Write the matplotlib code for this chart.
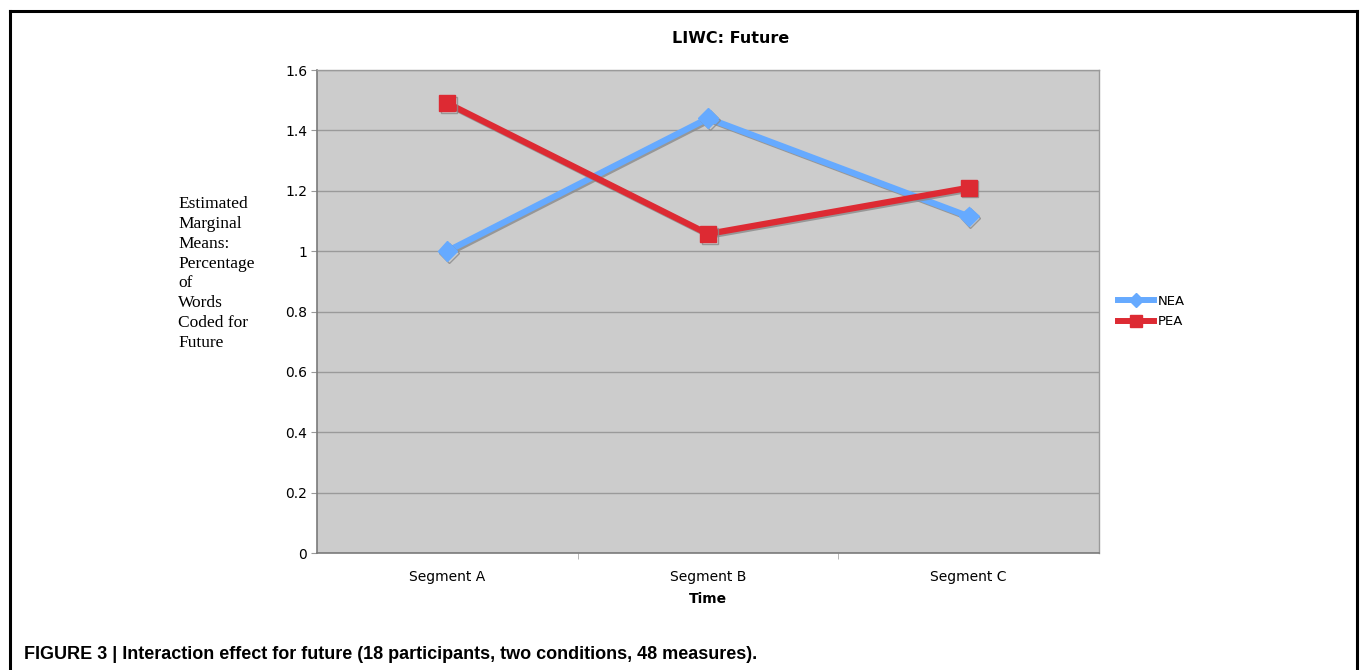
import matplotlib
matplotlib.use("Agg")
import matplotlib.pyplot as plt
import matplotlib.patheffects as pe
from matplotlib.lines import Line2D

# Data
segments = ["Segment A", "Segment B", "Segment C"]
nea_values = [1.00, 1.44, 1.115]
pea_values = [1.49, 1.057, 1.21]
y_ticks = [0, 0.2, 0.4, 0.6, 0.8, 1.0, 1.2, 1.4, 1.6]
y_tick_labels = ["0", "0.2", "0.4", "0.6", "0.8", "1", "1.2", "1.4", "1.6"]

NEA_COLOR = "#66aaff"
PEA_COLOR = "#dd2a33"

fig = plt.figure(figsize=(13.6, 6.7), dpi=100)
ax = fig.add_axes([0.2331, 0.1746, 0.575, 0.7209])
ax.set_facecolor("#cccccc")

x = list(range(len(segments)))
shadow = [pe.SimpleLineShadow(offset=(1.2, -1.2), shadow_color="#8a8a8a", alpha=0.8), pe.Normal()]

ax.plot(x, nea_values, color=NEA_COLOR, lw=4.5, marker="D", ms=10,
        solid_joinstyle="miter", path_effects=shadow, zorder=3, label="NEA")
ax.plot(x, pea_values, color=PEA_COLOR, lw=4.5, marker="s", ms=11.5,
        solid_joinstyle="miter", path_effects=shadow, zorder=4, label="PEA")

ax.set_xlim(-0.5, 2.5)
ax.set_ylim(0, 1.6)
ax.set_yticks(y_ticks)
ax.set_yticklabels(y_tick_labels, fontsize=10)
ax.set_xticks(x)
ax.set_xticklabels(segments, fontsize=10)
ax.tick_params(axis="x", length=0, pad=12)
ax.tick_params(axis="y", length=4, color="#999999", pad=3)

# category separators below the x axis
ax.set_xticks([0.5, 1.5], minor=True)
ax.tick_params(axis="x", which="minor", length=4, color="#aaaaaa")

ax.grid(axis="y", color="#9a9a9a", lw=1.0)
ax.set_axisbelow(True)
for side in ["left", "bottom"]:
    ax.spines[side].set_color("#7a7a7a")
    ax.spines[side].set_linewidth(1.2)
for side in ["top", "right"]:
    ax.spines[side].set_color("#9a9a9a")
    ax.spines[side].set_linewidth(1.0)

fig.text(0.5375, 0.943, "LIWC: Future", fontsize=11.5, fontweight="bold",
         ha="center", va="center")
ax.set_xlabel("Time", fontsize=10, fontweight="bold", labelpad=6)

fig.text(0.131, 0.708,
         "Estimated\nMarginal\nMeans:\nPercentage\nof\nWords\nCoded for\nFuture",
         family="Liberation Serif", fontsize=12.5, va="top", ha="left", linespacing=1.33)

handles = [
    Line2D([], [], color=NEA_COLOR, lw=4.3, marker="D", ms=7),
    Line2D([], [], color=PEA_COLOR, lw=4.3, marker="s", ms=9),
]
fig.legend(handles, ["NEA", "PEA"], loc="center left", bbox_to_anchor=(0.813, 0.535),
           frameon=False, fontsize=9.5, handlelength=2.8, handletextpad=0.25,
           labelspacing=0.55)

# outer frame: left, top, right
frame_kw = dict(color="black", lw=2.2, transform=fig.transFigure)
fig.add_artist(Line2D([0.0074, 0.0074], [0.0, 0.984], **frame_kw))
fig.add_artist(Line2D([0.0074, 0.998], [0.984, 0.984], **frame_kw))
fig.add_artist(Line2D([0.998, 0.998], [0.0, 0.984], **frame_kw))

fig.text(0.018, 0.017,
         "FIGURE 3 | Interaction effect for future (18 participants, two conditions, 48 measures).",
         family=["Liberation Sans Narrow", "Liberation Sans", "DejaVu Sans"], fontsize=13,
         fontweight="bold", va="baseline", ha="left")

fig.savefig("out.png", dpi=100)
